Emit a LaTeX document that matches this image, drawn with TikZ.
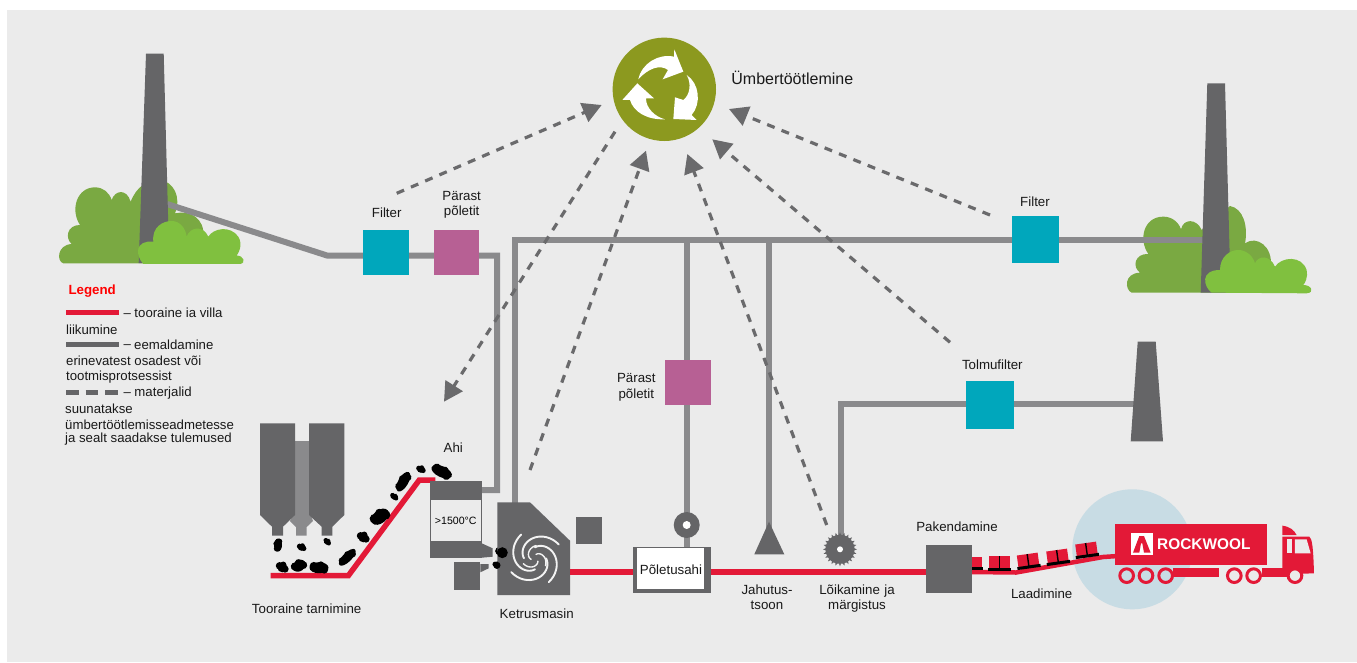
\documentclass[tikz,border=0pt]{standalone}
\usepackage{fontspec}
\setmainfont{Liberation Sans}
\usetikzlibrary{arrows.meta,calc}
\definecolor{bgc}{HTML}{EBEBEB}
\definecolor{pipec}{HTML}{8A8A8C}
\definecolor{darkc}{HTML}{656567}
\definecolor{dashc}{HTML}{6A6A6C}
\definecolor{redc}{HTML}{E31937}
\definecolor{tealc}{HTML}{00A7BC}
\definecolor{pinkc}{HTML}{B76094}
\definecolor{olivec}{HTML}{8C991F}
\definecolor{bushd}{HTML}{7AA942}
\definecolor{bushl}{HTML}{80C03F}
\definecolor{halo}{HTML}{C8DCE4}
\tikzset{
  pipe/.style={draw=pipec,line width=6pt,line join=miter},
  redline/.style={draw=redc,line width=5.5pt,line join=miter},
  dasharrow/.style={draw=dashc,line width=3.2pt,dash pattern=on 8pt off 7.5pt,-{Triangle[length=19pt,width=20pt,fill=dashc]}},
  tealbox/.style={fill=tealc,draw=none,inner sep=0pt,minimum width=45.5pt,minimum height=45.5pt},
  pinkbox/.style={fill=pinkc,draw=none,inner sep=0pt,minimum width=45.5pt,minimum height=45pt},
  txtlabel/.style={font=\fontsize{13.3}{16}\selectfont,text=black!90,inner sep=0pt,align=center},
  leg/.style={font=\fontsize{13.2}{16}\selectfont,text=black!90,inner sep=0pt,anchor=west},
  coal/.style={fill=black,draw=none},
  truckpart/.style={fill=redc,draw=none},
  zoomL/.style={shift={(40,40)},x=0.3333pt,y=-0.3333pt},
  zoomR/.style={shift={(1100,70)},x=0.3333pt,y=-0.3333pt},
}
\begin{document}
\begin{tikzpicture}[x=1pt,y=-1pt]
\useasboundingbox (0,0) rectangle (1357,662);
\fill[white] (0,0) rectangle (1357,662);
\fill[bgc] (7,10) rectangle (1357,662);

% coordinates
\coordinate (chimLjoin) at (167,204);
\coordinate (bendL) at (327,255.5);
\coordinate (aftTurn) at (497,255.5);
\coordinate (furnJoin) at (480,490);
\coordinate (turnTop) at (514.7,240);
\coordinate (spinTop) at (514.7,504);
\coordinate (chimRjoin) at (1204,240);
\coordinate (teeA) at (687,240);
\coordinate (teeB) at (769,240);
\coordinate (bendT) at (840.5,404);
\coordinate (stackJoin) at (1136,404);
\coordinate (a1s) at (396.7,193.3);
\coordinate (a1e) at (601.7,105);
\coordinate (a2s) at (615,131.7);
\coordinate (a2e) at (444,401.7);
\coordinate (a3s) at (530,470);
\coordinate (a3e) at (646,150.7);
\coordinate (a4s) at (826.7,525);
\coordinate (a4e) at (687.3,154);
\coordinate (a5s) at (950,342.3);
\coordinate (a5e) at (712.3,139.3);
\coordinate (a6s) at (990,215);
\coordinate (a6e) at (729,109);

% back bushes
\begin{scope}[zoomL]
\fill[bushd] (70,670) .. controls (50,665) and (50,615) .. (95,612) .. controls (75,595) and (80,555) .. (120,555) .. controls (90,510) and (110,442) .. (165,442) .. controls (190,442) and (208,458) .. (215,480) .. controls (225,450) and (260,445) .. (272,485) .. controls (290,440) and (320,420) .. (360,420) .. controls (400,425) and (425,470) .. (405,520) .. controls (450,510) and (495,535) .. (490,590) -- (490,670) -- cycle;
\end{scope}
\begin{scope}[zoomR]
\fill[bushd] (95,668) .. controls (75,660) and (70,610) .. (120,608) .. controls (95,590) and (105,550) .. (145,552) .. controls (115,510) and (130,440) .. (190,440) .. controls (215,440) and (235,455) .. (243,478) .. controls (250,445) and (290,445) .. (305,480) -- (390,408) .. controls (430,415) and (445,470) .. (435,520) .. controls (470,495) and (520,530) .. (512,590) -- (512,668) -- cycle;
\end{scope}

% pipes
\draw[pipe] (chimLjoin) -- (bendL) -- (aftTurn) -- (furnJoin -| aftTurn) -- (furnJoin);
\draw[pipe] (spinTop) -- (turnTop) -- (chimRjoin);
\draw[pipe] (teeA) -- (687,547);
\draw[pipe] (teeB) -- (769,530);
\draw[pipe] (stackJoin) -- (bendT) -- (840.5,540);

% chimneys
\fill[darkc] (146,53.7) -- (163.7,53.7) -- (169.3,263) -- (138.7,263) -- cycle;
\fill[darkc] (1207.3,83.3) -- (1225,83.3) -- (1230.7,292.7) -- (1200.7,292.7) -- cycle;
\fill[darkc] (1137.7,341.7) -- (1155.7,341.7) -- (1163,441.3) -- (1130.7,441.3) -- cycle;

% front bushes
\begin{scope}[zoomL]
\fill[bushl] (310,672) .. controls (285,645) and (285,600) .. (340,605) .. controls (335,560) and (370,543) .. (395,543) .. controls (420,543) and (437,565) .. (440,590) .. controls (450,560) and (490,555) .. (505,590) .. controls (520,565) and (570,555) .. (595,590) .. controls (610,615) and (595,640) .. (590,647) .. controls (610,645) and (620,670) .. (600,672) -- cycle;
\end{scope}
\begin{scope}[zoomR]
\fill[bushl] (335,668) .. controls (310,650) and (300,600) .. (360,600) .. controls (360,560) and (390,540) .. (415,540) .. controls (440,540) and (460,560) .. (465,580) .. controls (475,555) and (510,555) .. (525,590) .. controls (545,560) and (605,555) .. (620,600) .. controls (625,620) and (615,640) .. (610,645) .. controls (635,645) and (645,668) .. (620,670) -- cycle;
\end{scope}

% boxes
\node[tealbox] (filterL) at (386,252.5) {};
\node[pinkbox] (afterL) at (456.3,252.5) {};
\node[pinkbox] (afterM) at (688.2,382) {};
\node[tealbox,minimum width=47pt,minimum height=46.7pt] (filterR) at (1035.8,239.6) {};
\node[tealbox,minimum width=47.7pt,minimum height=47.7pt] (dustF) at (990.2,404.8) {};

% dashed arrows
\draw[dasharrow] (a1s) -- (a1e);
\draw[dasharrow] (a2s) -- (a2e);
\draw[dasharrow] (a3s) -- (a3e);
\draw[dasharrow] (a4s) -- (a4e);
\draw[dasharrow] (a5s) -- (a5e);
\draw[dasharrow] (a6s) -- (a6e);

% recycling disc
\node[circle,fill=olivec,inner sep=0pt,minimum size=103.4pt] (recycle) at (664.3,89.3) {};
\begin{scope}[shift={(580,20)},x=0.3333pt,y=-0.3333pt]
\fill[white] (175,178) .. controls (185,130) and (235,100) .. (282,110) -- (283,88) -- (310,155) -- (248,178) -- (264,150) .. controls (240,132) and (205,145) .. (175,178) -- cycle;
\fill[white] (320,165) .. controls (335,190) and (330,225) .. (310,240) -- (285,232) -- (280,297) -- (350,300) -- (335,285) .. controls (365,250) and (358,190) .. (320,165) -- cycle;
\fill[white] (172,190) -- (127,240) -- (150,240) .. controls (160,275) and (200,300) .. (255,298) .. controls (225,290) and (198,265) .. (198,235) -- (222,235) -- cycle;
\end{scope}

% silos
\fill[pipec] (295,441) -- (309,441) -- (309,510) -- (313,521) -- (306.7,527) -- (306.7,535.7) -- (296,535.7) -- (296,527) -- (290,521) -- (295,510) -- cycle;
\fill[darkc] (260,423.3) -- (295,423.3) -- (295,515) -- (283,526.7) -- (283,535.7) -- (272,535.7) -- (272,526.7) -- (260,515) -- cycle;
\fill[darkc] (309,423.3) -- (344.3,423.3) -- (344.3,515) -- (332.3,526.7) -- (332.3,535.7) -- (321.7,535.7) -- (321.7,526.7) -- (309,515) -- cycle;

% raw material conveyor
\draw[redline] (270.7,575.7) -- (348.3,575.7) -- (419.3,480) -- (435.3,480);

% coal
\foreach \cx/\cy/\rx/\ry/\rot in {278/545/6.5/4/90,301.7/547.3/4/3.5/0,327.3/541.7/3.5/3/-20,282.3/567.3/5/5/0,299/565.7/7/5.5/35,319/567.7/9.5/5.5/0,347.3/557.3/11/4.5/45,363.3/537.3/5/5/0,380/516.7/10/6.5/40,394.3/496.7/4/3/-20,403.3/481.7/11/5/60,421/469.3/4/3.5/0,441.7/471.7/11/5.5/-25,502.3/552.7/5.5/5.5/0,497/565.3/3.5/3.5/0}
  {\begin{scope}[shift={(\cx,\cy)},rotate=\rot]
     \fill[coal] (0,0) ellipse ({\rx} and {\ry});
     \fill[coal] ({0.55*\rx},{0.35*\ry}) circle ({0.72*\ry});
     \fill[coal] ({-0.55*\rx},{-0.3*\ry}) circle ({0.75*\ry});
     \fill[coal] ({0.2*\rx},{-0.55*\ry}) circle ({0.6*\ry});
   \end{scope}}

% furnace
\fill[darkc] (430,480.7) rectangle (481.7,557.7);
\fill[darkc] (481.7,543.3) -- (492.7,548.3) -- (492.7,556.7) -- (481.7,557.7) -- cycle;
\node[fill=bgc,inner sep=0pt,minimum width=50.5pt,minimum height=41pt,font=\fontsize{10.6}{12}\selectfont] (furnace) at (455.8,520.5) {>1500°C};
\fill[darkc] (453.7,562.3) rectangle (480.3,590);
\fill[darkc] (480.3,564) -- (488.7,564) -- (488.7,568.3) -- (480.3,572.3) -- cycle;

% spinner
\fill[darkc] (497.3,502.3) -- (530,502.3) -- (570,540.7) -- (570,595) -- (497.3,595) -- cycle;
\fill[darkc] (575.7,517.3) rectangle (602.3,543.7);
\fill[coal] (502.3,552.7) circle (5.5);
\fill[coal] (497,565.3) circle (3.5);
\foreach \r in {0,90,180,270}
  \draw[white!92!darkc,line width=1.9pt,line cap=round] plot[smooth,domain=0:150,samples=20,variable=\t] ({535+(11+\t*0.11)*cos(\t+\r)},{558.3+(11+\t*0.11)*sin(\t+\r)});
\foreach \r in {45,165,285}
  \draw[white!92!darkc,line width=1.4pt,line cap=round] plot[smooth,domain=0:110,samples=16,variable=\t] ({535+(4+\t*0.08)*cos(\t+\r)},{558.3+(4+\t*0.08)*sin(\t+\r)});

% main red line
\coordinate (spinOut) at (570,572);
\coordinate (packIn) at (926,572);
\draw[redline] (spinOut) -- (packIn);

% burner oven
\node[fill=darkc,inner sep=0pt,minimum width=77.4pt,minimum height=46pt] (ovenO) at (672,569.7) {};
\fill[white] (637.3,548) rectangle (704,588.7);

% wheel, triangle, saw
\node[circle,fill=darkc,inner sep=0pt,minimum size=26pt] (wheel) at (686.7,525) {};
\fill[white] (wheel.center) circle (4);
\fill[darkc] (769,521.7) -- (784.3,554.3) -- (754.3,554.3) -- cycle;
\node[circle,fill=darkc,inner sep=0pt,minimum size=29pt] (saw) at (840,549.3) {};
\foreach \a in {0,15,...,345}
  \fill[darkc] ($(saw.center)+(\a-5:14)$) -- ($(saw.center)+(\a:17)$) -- ($(saw.center)+(\a+5:14)$) -- cycle;
\fill[white] (saw.center) circle (3);

% halo under the loading line
\fill[halo] (1132.3,549.3) circle (60);

% packaging and loading
\draw[draw=redc,line width=4.5pt] (972,572) -- (1016,572.5) -- (1103,557) -- (1118,556);
\node[fill=darkc,inner sep=0pt,minimum width=46pt,minimum height=47.7pt] (pack) at (948.7,568.8) {};
\fill[redc] (972,557) rectangle (982,567);
\fill[black] (972,566.7) rectangle (983.3,570);
\foreach \cx/\cy/\ang in {999.3/564/0,1028.3/562/8,1057.7/558/8,1086.7/551/8}
  {\begin{scope}[shift={(\cx,\cy)},rotate=\ang]
    \fill[redc] (-10.5,-8) rectangle (10.5,4);
    \fill[black] (-11.7,3.5) rectangle (11.7,6.5);
    \fill[black] (-0.7,-8) rectangle (0.7,4);
  \end{scope}}

% truck
\begin{scope}[shift={(960,480)},x=0.3333pt,y=-0.3333pt]
\fill[truckpart] (465,133) rectangle (922,255);
\fill[truckpart] (640,265) rectangle (778,292);
\fill[truckpart] (905,265) rectangle (985,290);
\fill[truckpart] (967,137) .. controls (990,140) and (1002,150) .. (1010,165) -- (967,165) -- cycle;
\fill[truckpart] (967,170) -- (1048,170) .. controls (1056,175) and (1060,200) .. (1062,280) -- (967,283) -- cycle;
\fill[bgc] (980,178) rectangle (997,220);
\fill[bgc] (1005,178) -- (1040,178) -- (1052,220) -- (1005,220) -- cycle;
\foreach \wx in {500,558,617}
  {\draw[draw=redc,line width=3pt] (\wx,287) circle (20.5);}
\foreach \wx in {823,881,1005}
  {\fill[bgc] (\wx,287) circle (18);
   \draw[draw=redc,line width=3pt] (\wx,287) circle (20.5);}
\fill[white] (513,158) rectangle (578,224);
\fill[redc] (538,168) -- (552,168) -- (572,218) -- (552,218) -- (547,190) -- (543,190) -- (538,218) -- (519,218) -- cycle;
\node[inner sep=0pt,text=white,font=\fontsize{15.4}{16}\selectfont\bfseries,anchor=west] (brand) at (591,192) {ROCKWOOL};
\end{scope}

% labels
\node[txtlabel] (tFilterL) at (386.7,212.3) {Filter};
\node[txtlabel,text width=60pt] (tAfterL) at (461.7,204.8) {Pärast\\[-0.5pt]põletit};
\node[txtlabel] (tAhi) at (453.3,447.3) {Ahi};
\node[txtlabel] (tTooraine) at (306.7,608.3) {Tooraine tarnimine};
\node[txtlabel] (tKetrus) at (536.7,614) {Ketrusmasin};
\node[txtlabel,text width=60pt] (tAfterM) at (636.3,387.3) {Pärast\\põletit};
\node[txtlabel] (tOven) at (671,569.3) {Põletusahi};
\node[txtlabel,text width=60pt] (tJah) at (767,597.2) {Jahutus-\\[-1pt]tsoon};
\node[txtlabel,text width=90pt] (tLoik) at (857,598.8) {Lõikamine ja\\[-1pt]märgistus};
\node[txtlabel] (tPak) at (957,527) {Pakendamine};
\node[txtlabel] (tLaad) at (1041.7,593.3) {Laadimine};
\node[txtlabel] (tFilterR) at (1035,201.3) {Filter};
\node[txtlabel] (tDust) at (992.3,364.3) {Tolmufilter};
\node[txtlabel,font=\fontsize{16}{18}\selectfont] (tRec) at (792.3,78.3) {Ümbertöötlemine};

% legend
\node[leg,font=\fontsize{13.3}{16}\selectfont\bfseries,text=red] (lgHead) at (68.3,290.7) {Legend};
\coordinate (lr1) at (66,312); \coordinate (lr2) at (119,312);
\draw[draw=redc,line width=5pt] (lr1) -- (lr2);
\node[leg] (lg1) at (123.3,312.5) {– tooraine ia villa};
\node[leg] (lg1b) at (66,329.7) {liikumine};
\coordinate (lg1s) at (66,344.5); \coordinate (lg1e) at (119,344.5);
\draw[draw=darkc,line width=5.5pt] (lg1s) -- (lg1e);
\node[leg] (lg2d) at (123.3,346.5) {–};
\node[leg] (lg2) at (134,344.7) {eemaldamine};
\node[leg] (lg2b) at (66,360.7) {erinevatest osadest või};
\node[leg] (lg2c) at (66,376.7) {tootmisprotsessist};
\coordinate (lg3s) at (66,392.3); \coordinate (lg3e) at (119.5,392.3);
\draw[draw=darkc,line width=5pt,dash pattern=on 12.7pt off 7pt] (lg3s) -- (lg3e);
\node[leg] (lg3) at (123.3,393.3) {– materjalid};
\node[leg] (lg3b) at (65,408.3) {suunatakse};
\node[leg] (lg3c) at (65,425) {ümbertöötlemisseadmetesse};
\node[leg] (lg3d) at (65,439.3) {ja sealt saadakse tulemused};
\end{tikzpicture}
\end{document}
